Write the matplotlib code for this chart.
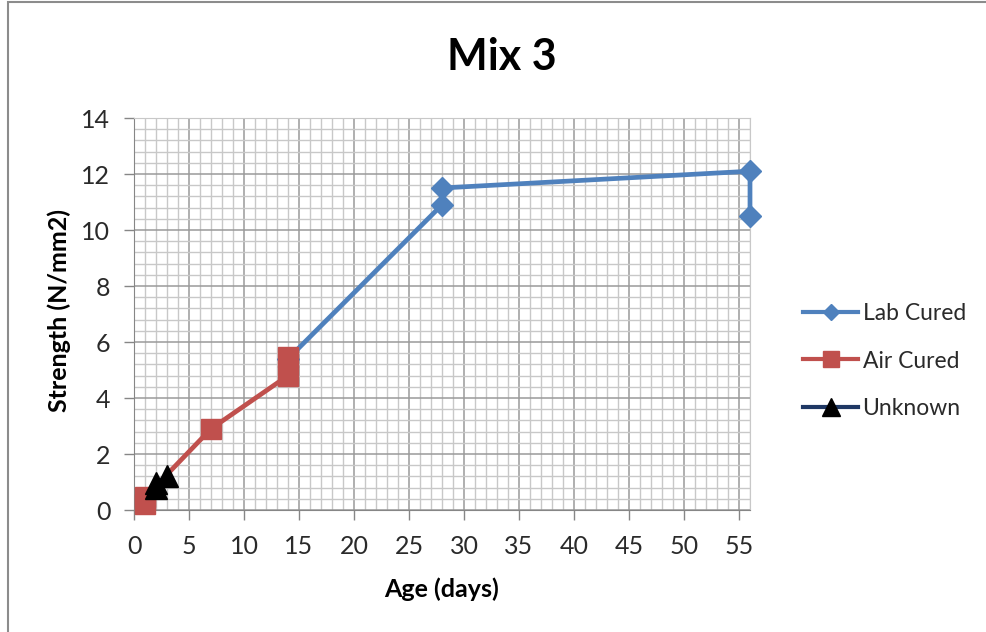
import matplotlib
matplotlib.use("Agg")
import matplotlib.pyplot as plt
from matplotlib.lines import Line2D
from matplotlib.patches import Rectangle
from matplotlib.ticker import MultipleLocator

plt.rcParams['font.family'] = ['Lato', 'DejaVu Sans']

lab_x = [14, 28, 28, 56, 56]
lab_y = [5.4, 10.9, 11.5, 12.1, 10.5]
air_x = [1, 1, 7, 14, 14]
air_y = [0.2, 0.45, 2.9, 4.8, 5.45]
unk_x = [2, 2, 3]
unk_y = [0.8, 0.95, 1.2]

title = "Mix 3"
xlabel = "Age (days)"
ylabel = "Strength (N/mm2)"

blue = "#4F81BD"
red = "#C0504D"
navy = "#1F3864"

fig = plt.figure(figsize=(9.86, 6.32), dpi=100)
fig.patches.append(Rectangle((8/986, -0.1), 1.2, 1 - 2/632 + 0.1, transform=fig.transFigure,
                             fill=False, edgecolor="#8c8c8c", linewidth=1.5))
ax = fig.add_axes([134/986, 1 - 510/632, (750-134)/986, (510-118)/632])

ax.set_xlim(0, 56)
ax.set_ylim(0, 14)
ax.xaxis.set_major_locator(MultipleLocator(5))
ax.xaxis.set_minor_locator(MultipleLocator(1))
ax.yaxis.set_major_locator(MultipleLocator(2))
ax.yaxis.set_minor_locator(MultipleLocator(0.4))
ax.grid(which='major', color='#9a9a9a', linewidth=1.1)
ax.grid(which='minor', color='#c8c8c8', linewidth=1.0)
ax.set_axisbelow(True)
ax.tick_params(which='minor', length=0)
ax.tick_params(which='major', length=7, width=1, color='#868686', direction='out',
               labelsize=18, labelcolor='#2a2a2a')
ax.tick_params(axis='x', pad=11)
ax.tick_params(axis='y', pad=10)
for s in ['left', 'bottom']:
    ax.spines[s].set_color('#868686')
for s in ['top', 'right']:
    ax.spines[s].set_color('#c8c8c8')

ax.plot(lab_x, lab_y, color=blue, linewidth=3.4, marker='D', markersize=11.5,
        markerfacecolor=blue, markeredgecolor=blue, zorder=3, clip_on=False)
ax.plot(air_x, air_y, color=red, linewidth=3.4, marker='s', markersize=15,
        markerfacecolor=red, markeredgecolor=red, zorder=4, clip_on=False)
ax.plot(unk_x, unk_y, color=navy, linewidth=3.4, marker='^', markersize=16,
        markerfacecolor='black', markeredgecolor='black', zorder=5, clip_on=False)

fig.text(502/986, 1 - 57/632, title, ha='center', va='center', fontsize=31, fontweight='bold')
ax.set_xlabel(xlabel, fontsize=18, fontweight='bold', va='center', ha='center')
ax.xaxis.set_label_coords((441.5 - 134) / 616, (510 - 589) / 392)
ax.set_ylabel(ylabel, fontsize=18, fontweight='bold', va='center', ha='center')
ax.yaxis.set_label_coords((59 - 134) / 616, (510 - 311) / 392)

handles = [
    Line2D([], [], color=blue, linewidth=3, marker='D', markersize=8.5, markerfacecolor=blue, markeredgecolor=blue),
    Line2D([], [], color=red, linewidth=3, marker='s', markersize=12, markerfacecolor=red, markeredgecolor=red),
    Line2D([], [], color=navy, linewidth=3, marker='^', markersize=13, markerfacecolor='black', markeredgecolor='black'),
]
labels = ["Lab Cured", "Air Cured", "Unknown"]
fig.legend(handles, labels, loc='center left', bbox_to_anchor=(803/986, 1 - 361/632),
           frameon=False, fontsize=16.5, handlelength=2.4, handletextpad=0.2,
           labelspacing=1.15, borderpad=0, borderaxespad=0, labelcolor='#2a2a2a')

fig.savefig("out.png", dpi=100)
